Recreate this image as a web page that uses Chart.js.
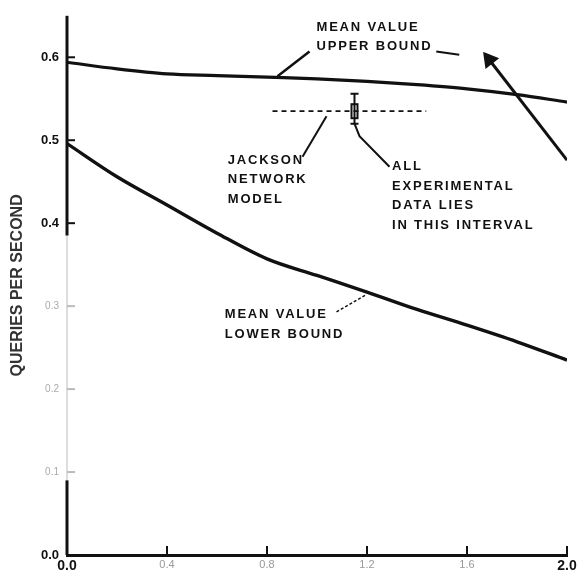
<!DOCTYPE html>
<html><head><meta charset="utf-8">
<script src="https://cdn.jsdelivr.net/npm/chart.js@4.4.1/dist/chart.umd.min.js"></script>
<style>html,body{margin:0;padding:0;background:#fff}#wrap{width:585px;height:579px}</style>
</head><body><div id="wrap"><canvas id="c"></canvas></div>
<script>
// ---- data ----
const xTicks = [0.0, 0.4, 0.8, 1.2, 1.6, 2.0];
const yTicks = [0.0, 0.1, 0.2, 0.3, 0.4, 0.5, 0.6];
const xCurve = [0.0, 0.2, 0.4, 0.6, 0.8, 1.0, 1.2, 1.4, 1.6, 1.8, 2.0];
const upperBound = [0.594, 0.586, 0.580, 0.578, 0.576, 0.574, 0.571, 0.567, 0.562, 0.555, 0.546];
const lowerBound = [0.496, 0.456, 0.422, 0.388, 0.357, 0.337, 0.317, 0.296, 0.277, 0.257, 0.235];
const jacksonX = [0.822, 1.437];
const jacksonY = [0.535, 0.535];
const intervalX = [1.15, 1.15];
const intervalY = [0.556, 0.520];
const steepX = [1.689, 2.0];
const steepY = [0.597, 0.476];
// annotation leaders (data units)
const leaderUpperX = [0.970, 0.842], leaderUpperY = [0.607, 0.577];
const dashUpperX = [1.477, 1.569], dashUpperY = [0.607, 0.603];
const leaderJackX = [1.038, 0.942], leaderJackY = [0.529, 0.480];
const leaderAllX = [1.15, 1.17, 1.29], leaderAllY = [0.520, 0.505, 0.468];
const leaderLowX = [1.078, 1.198], leaderLowY = [0.293, 0.314];
const notes = [
  {x: 0.998, y: 0.636, lines: ['MEAN VALUE', 'UPPER BOUND']},
  {x: 0.643, y: 0.476, lines: ['JACKSON', 'NETWORK', 'MODEL']},
  {x: 1.30, y: 0.468, lines: ['ALL', 'EXPERIMENTAL', 'DATA LIES', 'IN THIS INTERVAL']},
  {x: 0.631, y: 0.290, lines: ['MEAN VALUE', 'LOWER BOUND']}
];
const darkYTicks = [0.0, 0.4, 0.5, 0.6];
const darkXTicks = [0.0, 2.0];

const pts = (xs, ys) => xs.map((x, i) => ({x, y: ys[i]}));
const line = (xs, ys, w, extra) => Object.assign({
  data: pts(xs, ys), borderColor: '#111', backgroundColor: '#111', borderWidth: w,
  pointRadius: 0, showLine: true, fill: false, tension: 0
}, extra || {});
const isDark = (c, list) => !!(c && c.tick && list.some(v => Math.abs(v - c.tick.value) < 1e-6));

const annot = {
  id: 'annot',
  afterDatasetsDraw(chart) {
    const {ctx, scales: {x, y}} = chart;
    ctx.save();
    const ax = x.getPixelForValue(0);
    const seg = (v0, v1, col, w) => {
      ctx.strokeStyle = col; ctx.lineWidth = w; ctx.beginPath();
      ctx.moveTo(ax, y.getPixelForValue(v0)); ctx.lineTo(ax, y.getPixelForValue(v1)); ctx.stroke();
    };
    seg(0.385, 0.65, '#111', 3);
    seg(0.09, 0.385, '#ddd', 2);
    seg(0, 0.09, '#111', 3);
    yTicks.forEach(v => {
      const py = y.getPixelForValue(v);
      ctx.strokeStyle = darkYTicks.includes(v) ? '#111' : '#bbb';
      ctx.lineWidth = 2;
      ctx.beginPath(); ctx.moveTo(ax, py); ctx.lineTo(ax + 8, py); ctx.stroke();
    });
    const by = y.getPixelForValue(0);
    xTicks.forEach(v => {
      const px = x.getPixelForValue(v);
      ctx.strokeStyle = '#111'; ctx.lineWidth = 2;
      ctx.beginPath(); ctx.moveTo(px, by); ctx.lineTo(px, by - 9); ctx.stroke();
    });
    ctx.fillStyle = '#111';
    ctx.font = 'bold 13px "Liberation Sans", Arial, sans-serif';
    try { ctx.letterSpacing = '1.8px'; } catch (e) {}
    ctx.textBaseline = 'middle';
    ctx.textAlign = 'left';
    notes.forEach(n => {
      const px = x.getPixelForValue(n.x), py = y.getPixelForValue(n.y);
      n.lines.forEach((t, i) => ctx.fillText(t, px, py + i * 19.5));
    });
    const bx = x.getPixelForValue(1.15), byy = y.getPixelForValue(0.535);
    ctx.strokeStyle = '#111'; ctx.lineWidth = 2;
    ctx.strokeRect(bx - 3, byy - 7, 6, 14);
    ctx.restore();
  }
};

const boldFont = sz => ({family: '"Liberation Sans", Arial', size: sz, weight: 'bold'});
const thinFont = sz => ({family: '"Liberation Sans", Arial', size: sz, weight: 'normal'});

new Chart(document.getElementById('c'), {
  type: 'scatter',
  data: {
    datasets: [
      line(xCurve, upperBound, 3.2, {cubicInterpolationMode: 'monotone'}),
      line(xCurve, lowerBound, 3.4, {cubicInterpolationMode: 'monotone'}),
      line(jacksonX, jacksonY, 1.8, {borderDash: [5, 4]}),
      line(intervalX, intervalY, 2, {pointRadius: 4, pointStyle: 'line', pointBorderWidth: 2}),
      line(steepX, steepY, 3, {pointRadius: [7, 0], pointStyle: 'triangle', rotation: -38}),
      line(leaderUpperX, leaderUpperY, 2.5),
      line(dashUpperX, dashUpperY, 2),
      line(leaderJackX, leaderJackY, 2),
      line(leaderAllX, leaderAllY, 2),
      line(leaderLowX, leaderLowY, 1.5, {borderDash: [3, 2]})
    ]
  },
  options: {
    responsive: true, maintainAspectRatio: false, animation: false,
    layout: {padding: {top: 11, right: 18, left: 0, bottom: 0}},
    plugins: {legend: {display: false}, tooltip: {enabled: false}},
    scales: {
      x: {
        type: 'linear', min: 0, max: 2.0,
        afterBuildTicks: s => { s.ticks = xTicks.map(v => ({value: v})); },
        afterFit: s => { s.height = 24; },
        grid: {display: false, drawTicks: false},
        border: {display: true, color: '#111', width: 3},
        ticks: {
          padding: 3, maxRotation: 0, autoSkip: false,
          callback: v => v.toFixed(1),
          color: c => isDark(c, darkXTicks) ? '#111' : '#999',
          font: c => isDark(c, darkXTicks) ? boldFont(14) : thinFont(11)
        }
      },
      y: {
        type: 'linear', min: 0, max: 0.65,
        afterBuildTicks: s => { s.ticks = yTicks.map(v => ({value: v})); },
        afterFit: s => { s.width = 67; },
        grid: {display: false, drawTicks: false},
        border: {display: false},
        ticks: {
          padding: 8,
          callback: v => v.toFixed(1),
          color: c => isDark(c, darkYTicks) ? '#111' : '#aaa',
          font: c => isDark(c, darkYTicks) ? boldFont(13) : thinFont(10)
        },
        title: {
          display: true, text: 'QUERIES PER SECOND', color: '#333',
          font: boldFont(16),
          padding: {top: 8, bottom: 0}
        }
      }
    }
  },
  plugins: [annot]
});
</script></body></html>
